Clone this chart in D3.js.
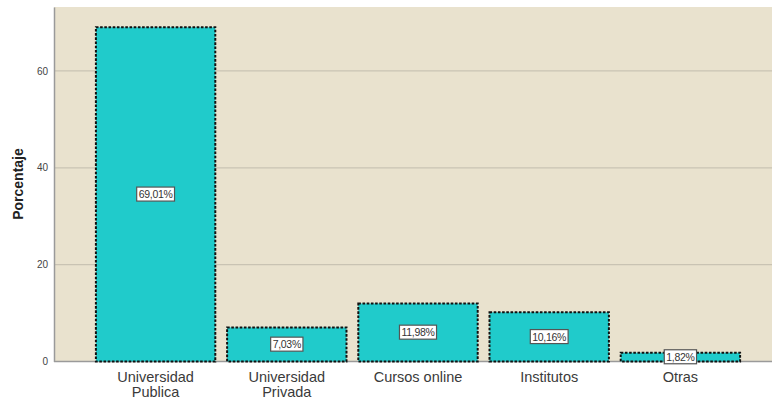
<!DOCTYPE html>
<html>
<head>
<meta charset="utf-8">
<script src="https://cdn.jsdelivr.net/npm/d3@7"></script>
<style>
  html, body { margin: 0; padding: 0; background: #fff; }
  svg { display: block; font-family: Arial, "Liberation Sans", sans-serif; }
</style>
</head>
<body>
<svg id="chart" width="773" height="399"></svg>
<script>
// Tipo de formación: porcentaje por categoría
const categories = [["Universidad", "Publica"], ["Universidad", "Privada"], ["Cursos online"], ["Institutos"], ["Otras"]];
const values = [69.01, 7.03, 11.98, 10.16, 1.82];
const valueLabels = ["69,01%", "7,03%", "11,98%", "10,16%", "1,82%"];
const yTicks = [0, 20, 40, 60];
const yTitle = "Porcentaje";

const svg = d3.select("#chart");
const plot = { left: 54, right: 772, top: 7, bottom: 361.5 };

const keys = categories.map(c => c.join(" "));
const x = d3.scaleBand().domain(keys).range([90, 746]).paddingInner(0.09).paddingOuter(0.045);
const y = d3.scaleLinear().domain([0, 73.2]).range([plot.bottom, plot.top]);

// plot background
svg.append("rect")
  .attr("x", plot.left).attr("y", plot.top)
  .attr("width", plot.right - plot.left).attr("height", plot.bottom - plot.top)
  .attr("fill", "#E9E2CE");

// gridlines
svg.append("g").selectAll("line").data(yTicks.filter(t => t > 0)).join("line")
  .attr("x1", plot.left).attr("x2", plot.right)
  .attr("y1", d => y(d)).attr("y2", d => y(d))
  .attr("stroke", "#C9C3B3").attr("stroke-width", 1.2);

// y axis
const yAxis = svg.append("g")
  .attr("transform", `translate(${plot.left},0)`)
  .call(d3.axisLeft(y).tickValues(yTicks).tickSize(0).tickPadding(6).tickFormat(d3.format("d")));
yAxis.select(".domain").attr("stroke", "#9A9A9A").attr("stroke-width", 1.5);
yAxis.selectAll("text").attr("font-size", 10).attr("fill", "#444")
  .attr("font-family", "Arial, 'Liberation Sans', sans-serif");

// x baseline
svg.append("line")
  .attr("x1", plot.left).attr("x2", plot.right)
  .attr("y1", plot.bottom).attr("y2", plot.bottom)
  .attr("stroke", "#9A9A9A").attr("stroke-width", 1.5);

// bars
const data = keys.map((k, i) => ({ key: k, lines: categories[i], value: values[i], label: valueLabels[i] }));
svg.append("g").selectAll("rect").data(data).join("rect")
  .attr("x", d => x(d.key))
  .attr("y", d => y(d.value))
  .attr("width", x.bandwidth())
  .attr("height", d => y(0) - y(d.value))
  .attr("fill", "#20CBCB")
  .attr("stroke", "#111")
  .attr("stroke-width", 2)
  .attr("stroke-dasharray", "2.6,1.6");

// value labels in boxes
const lab = svg.append("g").selectAll("g").data(data).join("g")
  .attr("transform", d => `translate(${x(d.key) + x.bandwidth() / 2},${(y(d.value) + y(0)) / 2})`);
lab.append("text")
  .attr("text-anchor", "middle").attr("dy", "0.35em")
  .attr("font-size", 10.5).attr("fill", "#333").attr("letter-spacing", -0.3)
  .text(d => d.label);
lab.each(function () {
  const g = d3.select(this);
  const bb = g.select("text").node().getBBox();
  g.insert("rect", "text")
    .attr("x", bb.x - 2).attr("y", bb.y - 1)
    .attr("width", bb.width + 4).attr("height", bb.height + 2)
    .attr("fill", "#fff").attr("stroke", "#555").attr("stroke-width", 1.2);
});

// category labels
const xl = svg.append("g").selectAll("text").data(data).join("text")
  .attr("x", d => x(d.key) + x.bandwidth() / 2)
  .attr("y", 382)
  .attr("text-anchor", "middle")
  .attr("font-size", 14.5).attr("fill", "#3a3a3a");
xl.selectAll("tspan").data(d => d.lines.map(l => ({ l, cx: x(d.key) + x.bandwidth() / 2 }))).join("tspan")
  .attr("x", t => t.cx)
  .attr("dy", (t, i) => i === 0 ? 0 : 14.5)
  .text(t => t.l);

// y title
svg.append("text")
  .attr("transform", `translate(23,184) rotate(-90)`)
  .attr("text-anchor", "middle")
  .attr("font-size", 14).attr("font-weight", "bold").attr("fill", "#222")
  .text(yTitle);
</script>
</body>
</html>
